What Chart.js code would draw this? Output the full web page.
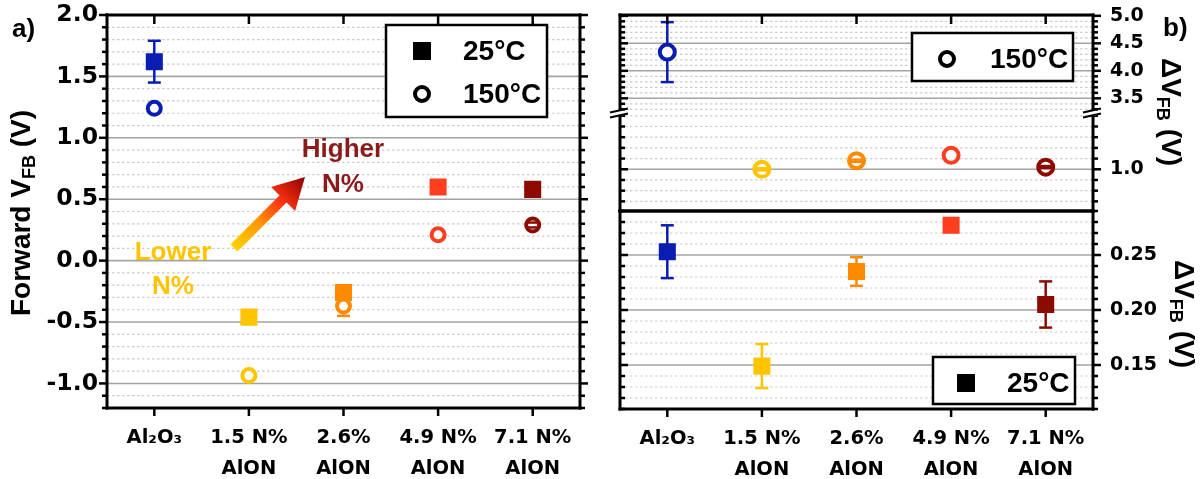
<!DOCTYPE html>
<html>
<head>
<meta charset="utf-8">
<script src="https://cdn.jsdelivr.net/npm/chart.js@4.4.0/dist/chart.umd.min.js"></script>
<style>
  html, body { margin: 0; padding: 0; background: #fff; }
  #wrap { position: relative; width: 1203px; height: 479px; }
  #wrap canvas { position: absolute; left: 0; top: 0; }
</style>
</head>
<body>
<div id="wrap">
  <canvas id="panelA" width="1203" height="479"></canvas>
  <canvas id="panelBHigh" width="1203" height="479"></canvas>
  <canvas id="panelBLow" width="1203" height="479"></canvas>
  <canvas id="panelBRoom" width="1203" height="479"></canvas>
</div>
<script>
// categories and tick labels
const categories = ['Al2O3', '1.5 N% AlON', '2.6% AlON', '4.9 N% AlON', '7.1 N% AlON'];
const categoryTickLabels = [['Al₂O₃'], ['1.5 N%', 'AlON'], ['2.6%', 'AlON'], ['4.9 N%', 'AlON'], ['7.1 N%', 'AlON']];
const sampleColors = ['#0a1db3', '#ffc400', '#ff8a00', '#ff3d1f', '#8c0b00'];

// a) forward VFB (V)
const vfb25 = [1.62, -0.46, -0.26, 0.60, 0.58];
const vfb25Err = [0.17, 0, 0, 0, 0];
const vfb150 = [1.24, -0.935, -0.37, 0.21, 0.29];
const vfb150Err = [0, 0, 0.08, 0, 0.02];

// b) delta VFB (V)
const dvfb150 = [4.34, 1.00, 1.08, 1.13, 1.02];
const dvfb150Err = [0.545, 0.01, 0.01, 0, 0.01];
const dvfb25 = [0.253, 0.149, 0.235, 0.277, 0.205];
const dvfb25Err = [0.024, 0.020, 0.013, 0, 0.021];

// axis ranges and labelled ticks
const vfbRange = [-1.2, 2.0];
const vfbTickLabels = [-1.0, -0.5, 0.0, 0.5, 1.0, 1.5, 2.0];
const dvfbHighRange = [3.233, 5.015];
const dvfbHighTickLabels = [3.5, 4.0, 4.5, 5.0];
const dvfbLowRange = [0.61, 1.526];
const dvfbLowTickLabels = [1.0];
const dvfbRoomRange = [0.11, 0.29];
const dvfbRoomTickLabels = [0.15, 0.20, 0.25];

const WIDE = '"DejaVu Sans", sans-serif';
const ARIAL = '"Liberation Sans", Arial, sans-serif';
const panelSpec = {};

function nearIn(v, list) {
  return list.some(t => Math.abs(t - v) < 1e-6);
}

function line(ctx, x1, y1, x2, y2) {
  ctx.beginPath();
  ctx.moveTo(x1, y1);
  ctx.lineTo(x2, y2);
  ctx.stroke();
}

function eachError(chart, fn) {
  const ys = chart.scales.y;
  chart.data.datasets.forEach((ds, i) => {
    if (!ds.errors) return;
    const meta = chart.getDatasetMeta(i);
    ds.errors.forEach((e, j) => {
      if (!e) return;
      const v = ds.data[j];
      fn(meta.data[j].x, ys.getPixelForValue(v + e), ys.getPixelForValue(v - e), ds.pointBorderColor[j]);
    });
  });
}

function drawRich(ctx, parts, cx, cy, angle) {
  ctx.save();
  ctx.translate(cx, cy);
  ctx.rotate(angle);
  ctx.fillStyle = '#000';
  ctx.textBaseline = 'middle';
  ctx.textAlign = 'left';
  let total = 0;
  parts.forEach(p => {
    ctx.font = `bold ${p.size}px ${ARIAL}`;
    p.w = ctx.measureText(p.text).width;
    total += p.w;
  });
  let x = -total / 2;
  parts.forEach(p => {
    ctx.font = `bold ${p.size}px ${ARIAL}`;
    ctx.fillText(p.text, x, p.dy || 0);
    x += p.w;
  });
  ctx.restore();
}

function legendBox(ctx, x1, y1, x2, y2) {
  ctx.fillStyle = '#fff';
  ctx.fillRect(x1, y1, x2 - x1, y2 - y1);
  ctx.lineWidth = 2.5;
  ctx.strokeStyle = '#000';
  ctx.strokeRect(x1, y1, x2 - x1, y2 - y1);
}

function legendEntry(ctx, style, mx, my, label, tx) {
  ctx.fillStyle = '#000';
  ctx.strokeStyle = '#000';
  if (style === 'rect') {
    ctx.fillRect(mx - 9, my - 9, 18, 18);
  } else {
    ctx.beginPath();
    ctx.lineWidth = 4;
    ctx.arc(mx, my, 7, 0, Math.PI * 2);
    ctx.stroke();
  }
  ctx.font = `bold 28px ${ARIAL}`;
  ctx.textBaseline = 'middle';
  ctx.textAlign = 'left';
  ctx.fillText(label, tx, my + 1);
}

const vfbTitle = [{text: 'Forward V', size: 28}, {text: 'FB', size: 18, dy: 8}, {text: ' (V)', size: 28}];
const dvfbTitle = [{text: 'ΔV', size: 28}, {text: 'FB', size: 18, dy: 8}, {text: ' (V)', size: 28}];

const extras = {
  panelA(ctx) {
    ctx.fillStyle = '#000';
    ctx.font = `bold 26px ${ARIAL}`;
    ctx.textBaseline = 'middle';
    ctx.textAlign = 'left';
    ctx.fillText('a)', 12, 30);
    drawRich(ctx, vfbTitle, 22, 213, -Math.PI / 2);

    legendBox(ctx, 386, 25, 547, 117);
    legendEntry(ctx, 'rect', 422, 51, '25°C', 463);
    legendEntry(ctx, 'circle', 422, 94, '150°C', 463);

    // arrow from lower to higher N%
    const tail = [234, 248], tip = [305, 177];
    const g = ctx.createLinearGradient(tail[0], tail[1], tip[0], tip[1]);
    g.addColorStop(0, '#ffd200');
    g.addColorStop(0.35, '#ff9800');
    g.addColorStop(0.65, '#ff3312');
    g.addColorStop(1, '#8b0000');
    const ux = Math.SQRT1_2, uy = -Math.SQRT1_2;
    const bx = tip[0] - 31 * ux, by = tip[1] - 31 * uy;
    ctx.strokeStyle = g;
    ctx.lineWidth = 10;
    ctx.lineCap = 'butt';
    line(ctx, tail[0], tail[1], bx + 2 * ux, by + 2 * uy);
    ctx.fillStyle = g;
    ctx.beginPath();
    ctx.moveTo(tip[0], tip[1]);
    ctx.lineTo(bx - 17 * uy, by + 17 * ux);
    ctx.lineTo(bx + 17 * uy, by - 17 * ux);
    ctx.closePath();
    ctx.fill();

    ctx.font = `bold 26px ${ARIAL}`;
    ctx.textAlign = 'center';
    ctx.fillStyle = '#8b1a1a';
    ctx.fillText('Higher', 343, 150);
    ctx.fillText('N%', 343, 185);
    ctx.fillStyle = '#ffc400';
    ctx.fillText('Lower', 173, 253);
    ctx.fillText('N%', 173, 287);
  },
  panelBHigh(ctx) {
    ctx.fillStyle = '#000';
    ctx.font = `bold 26px ${ARIAL}`;
    ctx.textBaseline = 'middle';
    ctx.textAlign = 'left';
    ctx.fillText('b)', 1163, 29);
    drawRich(ctx, dvfbTitle, 1170, 112, Math.PI / 2);
    legendBox(ctx, 912, 33, 1073, 81);
    legendEntry(ctx, 'circle', 947, 59, '150°C', 990);
  },
  panelBLow(ctx, a) {
    // axis break marks
    [a.left, a.right].forEach(x => {
      ctx.fillStyle = '#fff';
      ctx.fillRect(x - 3, a.top - 3, 6, 6);
      ctx.strokeStyle = '#000';
      ctx.lineWidth = 2.2;
      line(ctx, x - 10, a.top - 0.5, x + 8, a.top - 4.5);
      line(ctx, x - 10, a.top + 4.5, x + 8, a.top + 0.5);
    });
  },
  panelBRoom(ctx) {
    drawRich(ctx, dvfbTitle, 1183, 314, Math.PI / 2);
    legendBox(ctx, 933, 357, 1075, 404);
    legendEntry(ctx, 'rect', 966, 383, '25°C', 1007);
  }
};

const panelDecor = {
  id: 'panelDecor',
  beforeDatasetsDraw(chart) {
    const spec = panelSpec[chart.canvas.id];
    const {ctx, chartArea: a} = chart;
    const ys = chart.scales.y;
    ctx.save();
    ys.ticks.forEach(t => {
      const py = ys.getPixelForValue(t.value);
      const major = nearIn(t.value, spec.majors);
      ctx.setLineDash(major ? [] : [2.5, 2.5]);
      ctx.strokeStyle = major ? '#a3a3a3' : '#cccccc';
      ctx.lineWidth = major ? 1.6 : 1.2;
      line(ctx, a.left, py, a.right, py);
    });
    ctx.setLineDash([]);
    ctx.beginPath();
    ctx.rect(a.left, a.top, a.right - a.left, a.bottom - a.top);
    ctx.clip();
    ctx.lineWidth = 2.5;
    eachError(chart, (x, yHi, yLo, col) => {
      ctx.strokeStyle = col;
      line(ctx, x, yHi, x, yLo);
    });
    ctx.restore();
  },
  afterDatasetsDraw(chart) {
    const {ctx, chartArea: a} = chart;
    ctx.save();
    ctx.beginPath();
    ctx.rect(a.left, a.top, a.right - a.left, a.bottom - a.top);
    ctx.clip();
    ctx.lineWidth = 2.5;
    eachError(chart, (x, yHi, yLo, col) => {
      ctx.strokeStyle = col;
      line(ctx, x - 6.5, yHi, x + 6.5, yHi);
      line(ctx, x - 6.5, yLo, x + 6.5, yLo);
    });
    ctx.restore();
  },
  afterDraw(chart) {
    const spec = panelSpec[chart.canvas.id];
    const {ctx, chartArea: a} = chart;
    const xs = chart.scales.x, ys = chart.scales.y;
    ctx.save();
    ctx.strokeStyle = '#000';
    ctx.lineWidth = 2.5;
    ys.ticks.forEach(t => {
      const py = ys.getPixelForValue(t.value);
      const len = nearIn(t.value, spec.majors) ? 8 : 5;
      line(ctx, a.left, py, a.left + (spec.leftTicks === 'in' ? len : -len), py);
      line(ctx, a.right, py, a.right + len, py);
    });
    xs.ticks.forEach((t, i) => {
      const px = xs.getPixelForValue(i);
      if (spec.topTicks) line(ctx, px, a.top, px, a.top + 9);
      if (spec.bottomTicks) line(ctx, px, a.bottom, px, a.bottom + 8);
    });
    ctx.lineWidth = 3;
    ctx.lineCap = 'square';
    line(ctx, a.left, a.top, a.left, a.bottom);
    line(ctx, a.right, a.top, a.right, a.bottom);
    if (spec.frameTop) line(ctx, a.left, a.top, a.right, a.top);
    if (spec.frameBottom) line(ctx, a.left, a.bottom, a.right, a.bottom);
    ctx.lineCap = 'butt';
    if (extras[chart.canvas.id]) extras[chart.canvas.id](ctx, a);
    ctx.restore();
  }
};

function pointSets(hot, hotErr, room, roomErr, hotRadius) {
  return [
    {
      label: '150°C', data: hot, errors: hotErr, showLine: false,
      pointStyle: 'circle', pointRadius: hotRadius, pointBorderWidth: 4,
      pointBackgroundColor: '#fff', pointBorderColor: sampleColors
    },
    {
      label: '25°C', data: room, errors: roomErr, showLine: false,
      pointStyle: 'rect', pointRadius: 11, pointBorderWidth: 1.5,
      pointBackgroundColor: sampleColors, pointBorderColor: sampleColors
    }
  ];
}

// keep the chart area exactly where the layout padding puts it
function noEdgePadding(s) {
  s.paddingTop = 0;
  s.paddingBottom = 0;
  s.paddingLeft = 0;
  s.paddingRight = 0;
}

function makePanel(id, spec) {
  panelSpec[id] = spec;
  return new Chart(document.getElementById(id), {
    type: 'line',
    data: {labels: categories, datasets: spec.datasets},
    options: {
      responsive: false,
      animation: false,
      events: [],
      layout: {padding: spec.padding},
      plugins: {legend: {display: false}, tooltip: {enabled: false}},
      scales: {
        x: {
          offset: true,
          display: spec.showX,
          grid: {display: false, drawTicks: false},
          border: {display: false},
          ticks: {
            padding: 15, color: '#000', autoSkip: false, maxRotation: 0, minRotation: 0,
            font: {family: WIDE, size: 19.5, weight: 'bold', lineHeight: 1.57},
            callback: (v, i) => categoryTickLabels[i]
          },
          afterFit: s => { s.height = spec.xHeight; noEdgePadding(s); }
        },
        y: {
          position: spec.yPos,
          min: spec.range[0],
          max: spec.range[1],
          grid: {display: false, drawTicks: false},
          border: {display: false},
          ticks: {
            stepSize: spec.step, autoSkip: false, includeBounds: false,
            padding: spec.tickPad, color: '#000',
            font: {family: WIDE, size: spec.tickSize, weight: 'bold'},
            callback: v => nearIn(v, spec.labels) ? v.toFixed(spec.decimals) : ''
          },
          afterFit: s => { s.width = spec.yWidth; noEdgePadding(s); }
        }
      }
    },
    plugins: [panelDecor]
  });
}

makePanel('panelA', {
  datasets: pointSets(vfb150, vfb150Err, vfb25, vfb25Err, 6.5),
  padding: {left: 0, top: 15, right: 623, bottom: 0},
  range: vfbRange, step: 0.1, labels: vfbTickLabels, majors: vfbTickLabels, decimals: 1,
  yPos: 'left', yWidth: 107, tickPad: 9, tickSize: 23.5,
  showX: true, xHeight: 71,
  leftTicks: 'out', topTicks: true, bottomTicks: true, frameTop: true, frameBottom: true
});

makePanel('panelBHigh', {
  datasets: pointSets(dvfb150, dvfb150Err, dvfb25, dvfb25Err, 7.5),
  padding: {left: 620, top: 15, right: 0, bottom: 366},
  range: dvfbHighRange, step: 0.1, labels: dvfbHighTickLabels, majors: dvfbHighTickLabels, decimals: 1,
  yPos: 'right', yWidth: 110, tickPad: 17, tickSize: 19,
  showX: false, xHeight: 0,
  leftTicks: 'in', topTicks: true, bottomTicks: false, frameTop: true, frameBottom: false
});

makePanel('panelBLow', {
  datasets: pointSets(dvfb150, dvfb150Err, dvfb25, dvfb25Err, 7.5),
  padding: {left: 620, top: 113, right: 0, bottom: 268},
  range: dvfbLowRange, step: 0.1, labels: dvfbLowTickLabels, majors: dvfbLowTickLabels, decimals: 1,
  yPos: 'right', yWidth: 110, tickPad: 17, tickSize: 19,
  showX: false, xHeight: 0,
  leftTicks: 'in', topTicks: false, bottomTicks: false, frameTop: false, frameBottom: true
});

makePanel('panelBRoom', {
  datasets: pointSets(dvfb150, dvfb150Err, dvfb25, dvfb25Err, 7.5),
  padding: {left: 620, top: 211, right: 0, bottom: 0},
  range: dvfbRoomRange, step: 0.01, labels: dvfbRoomTickLabels, majors: dvfbRoomTickLabels, decimals: 2,
  yPos: 'right', yWidth: 110, tickPad: 17, tickSize: 19,
  showX: true, xHeight: 70,
  leftTicks: 'in', topTicks: false, bottomTicks: true, frameTop: true, frameBottom: true
});
</script>
</body>
</html>
